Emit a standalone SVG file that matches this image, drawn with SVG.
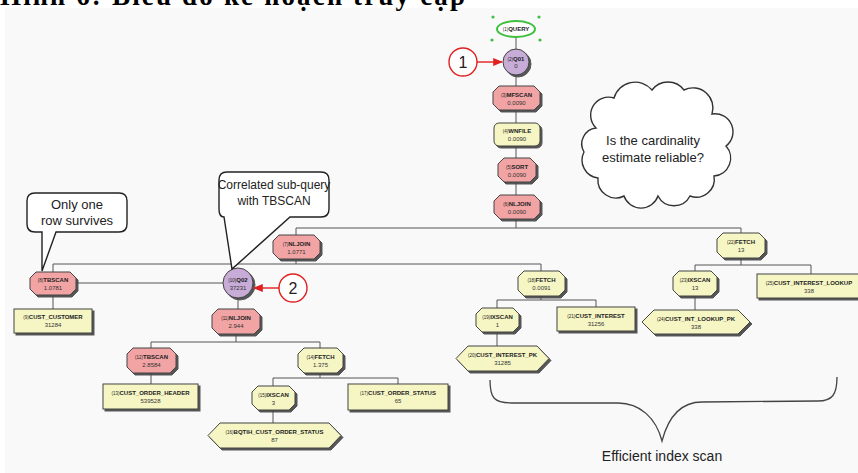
<svg xmlns="http://www.w3.org/2000/svg" width="858" height="473" viewBox="0 0 858 473">
<defs>
<filter id="sh" x="-20%" y="-20%" width="140%" height="150%">
<feOffset in="SourceAlpha" dx="2" dy="2" result="o"/>
<feFlood flood-color="#444" flood-opacity="0.9"/>
<feComposite in2="o" operator="in" result="s"/>
<feMerge><feMergeNode in="s"/><feMergeNode in="SourceGraphic"/></feMerge>
</filter>
<marker id="ar" viewBox="0 0 10 10" refX="9" refY="5" markerWidth="7" markerHeight="7" orient="auto-start-reverse">
<path d="M0,1 L10,5 L0,9 Z" fill="#e02020"/>
</marker>
</defs>
<style>
.pk{fill:#f2a4a4;stroke:#444;stroke-width:1;filter:url(#sh)}
.yl{fill:#f6f6c4;stroke:#444;stroke-width:1;filter:url(#sh)}
.pu{fill:#c8acd8;stroke:#444;stroke-width:1;filter:url(#sh)}
.lb{font-family:"Liberation Sans",Arial,sans-serif;font-size:6px;font-weight:bold;fill:#222;text-anchor:middle}
.vl{font-family:"Liberation Sans",Arial,sans-serif;font-size:6px;fill:#333;text-anchor:middle}
.sp{font-size:4.5px;font-weight:normal}
.cn{fill:none;stroke:#555;stroke-width:1}
.co{fill:#fff;stroke:#222;stroke-width:1.4}
.ct{font-family:"Liberation Sans",Arial,sans-serif;font-size:13px;fill:#222;text-anchor:middle}
.rc{fill:#fff;stroke:#e02020;stroke-width:1.4}
.ra{stroke:#e02020;stroke-width:1.4;fill:none;marker-end:url(#ar)}
.hd{fill:#40c040}
</style>
<rect x="0" y="0" width="858" height="473" fill="#ffffff"/>
<rect x="5" y="8" width="853" height="465" fill="#f9f9f9"/>
<text x="0" y="5" font-family="'Liberation Serif','Times New Roman',serif" font-size="27" font-weight="bold" fill="#000" textLength="465">Hình 6: Biểu đồ kế hoạch truy cập</text>

<g id="connectors">
<path class="cn" d="M516,37 V228"/>
<path class="cn" d="M296,235 V228 H741 V233"/>
<path class="cn" d="M296,259 V264 M53,272 V264 H541 V271"/>
<path class="cn" d="M53,295 V309"/>
<path class="cn" d="M76,283 H223"/>
<path class="cn" d="M238,298 V309"/>
<path class="cn" d="M236,334 V342 M151,348 V342 H320 V348"/>
<path class="cn" d="M151,373 V384"/>
<path class="cn" d="M320,373 V378 M273,386 V378 H398 V384"/>
<path class="cn" d="M273,410 V423"/>
<path class="cn" d="M541,296 V300 M497,308 V300 H596 V307"/>
<path class="cn" d="M497,332 V346"/>
<path class="cn" d="M741,258 V265 M695,271 V265 H811 V274"/>
<path class="cn" d="M695,296 V310"/>
</g>

<g id="n1">
<circle class="hd" cx="493" cy="17" r="1.6"/><circle class="hd" cx="539" cy="17" r="1.6"/>
<circle class="hd" cx="492" cy="40" r="1.6"/><circle class="hd" cx="540" cy="40" r="1.6"/>
<ellipse cx="516" cy="29" rx="19" ry="8" fill="#fff" stroke="#40c040" stroke-width="2"/>
<text class="lb" x="516" y="31"><tspan class="sp">(1)</tspan>QUERY</text>
</g>
<g id="n2">
<circle class="pu" cx="516" cy="62" r="13"/>
<text class="lb" x="516" y="61"><tspan class="sp">(2)</tspan>Q01</text>
<text class="vl" x="516" y="68">0</text>
</g>
<g id="n3">
<polygon class="pk" points="499,86 534,86 540,92 540,104 534,110 499,110 493,104 493,92"/>
<text class="lb" x="516.5" y="97"><tspan class="sp">(3)</tspan>MFSCAN</text>
<text class="vl" x="516.5" y="105">0.0090</text>
</g>
<g id="n4">
<rect class="yl" x="494" y="123" width="46" height="23" rx="5"/>
<text class="lb" x="517" y="133"><tspan class="sp">(4)</tspan>WNFILE</text>
<text class="vl" x="517" y="141">0.0090</text>
</g>
<g id="n5">
<polygon class="pk" points="504,158 530,158 536,164 536,176 530,182 504,182 498,176 498,164"/>
<text class="lb" x="517" y="169"><tspan class="sp">(5)</tspan>SORT</text>
<text class="vl" x="517" y="177">0.0090</text>
</g>
<g id="n6">
<polygon class="pk" points="500,195 534,195 540,201 540,213 534,219 500,219 494,213 494,201"/>
<text class="lb" x="517" y="206"><tspan class="sp">(6)</tspan>NLJOIN</text>
<text class="vl" x="517" y="214">0.0090</text>
</g>
<g id="n7">
<polygon class="pk" points="279,235 314,235 320,241 320,253 314,259 279,259 273,253 273,241"/>
<text class="lb" x="296.5" y="246"><tspan class="sp">(7)</tspan>NLJOIN</text>
<text class="vl" x="296.5" y="254">1.0771</text>
</g>
<g id="n8">
<polygon class="pk" points="36,272 70,272 76,278 76,289 70,295 36,295 30,289 30,278"/>
<text class="lb" x="53" y="282"><tspan class="sp">(8)</tspan>TBSCAN</text>
<text class="vl" x="53" y="290">1.0781</text>
</g>
<g id="n9">
<rect class="yl" x="14" y="309" width="78" height="24"/>
<text class="lb" x="53" y="319"><tspan class="sp">(9)</tspan>CUST_CUSTOMER</text>
<text class="vl" x="53" y="327">31284</text>
</g>
<g id="n10">
<circle class="pu" cx="238" cy="283" r="15"/>
<text class="lb" x="238" y="282"><tspan class="sp">(10)</tspan>Q02</text>
<text class="vl" x="238" y="290">37231</text>
</g>
<g id="n11">
<polygon class="pk" points="218,309 254,309 260,315 260,328 254,334 218,334 212,328 212,315"/>
<text class="lb" x="236" y="320"><tspan class="sp">(11)</tspan>NLJOIN</text>
<text class="vl" x="236" y="328">2.944</text>
</g>
<g id="n12">
<polygon class="pk" points="133,348 170,348 176,354 176,367 170,373 133,373 127,367 127,354"/>
<text class="lb" x="151.5" y="359"><tspan class="sp">(12)</tspan>TBSCAN</text>
<text class="vl" x="151.5" y="367">2.8584</text>
</g>
<g id="n13">
<rect class="yl" x="103" y="384" width="95" height="25"/>
<text class="lb" x="150.5" y="395"><tspan class="sp">(13)</tspan>CUST_ORDER_HEADER</text>
<text class="vl" x="150.5" y="403">539528</text>
</g>
<g id="n14">
<polygon class="yl" points="304,348 337,348 343,354 343,367 337,373 304,373 298,367 298,354"/>
<text class="lb" x="320.5" y="359"><tspan class="sp">(14)</tspan>FETCH</text>
<text class="vl" x="320.5" y="367">1.375</text>
</g>
<g id="n15">
<polygon class="yl" points="258,386 289,386 295,392 295,404 289,410 258,410 252,404 252,392"/>
<text class="lb" x="273.5" y="397"><tspan class="sp">(15)</tspan>IXSCAN</text>
<text class="vl" x="273.5" y="405">3</text>
</g>
<g id="n16">
<polygon class="yl" points="220,423 329,423 341,435.5 329,448 220,448 208,435.5"/>
<text class="lb" x="274.5" y="434"><tspan class="sp">(16)</tspan>BQTIH_CUST_ORDER_STATUS</text>
<text class="vl" x="274.5" y="442">87</text>
</g>
<g id="n17">
<rect class="yl" x="348" y="384" width="100" height="26"/>
<text class="lb" x="398" y="395"><tspan class="sp">(17)</tspan>CUST_ORDER_STATUS</text>
<text class="vl" x="398" y="403">65</text>
</g>
<g id="n18">
<polygon class="yl" points="524,271 559,271 565,277 565,290 559,296 524,296 518,290 518,277"/>
<text class="lb" x="541.5" y="282"><tspan class="sp">(18)</tspan>FETCH</text>
<text class="vl" x="541.5" y="290">0.0091</text>
</g>
<g id="n19">
<polygon class="yl" points="482,308 513,308 519,314 519,326 513,332 482,332 476,326 476,314"/>
<text class="lb" x="497.5" y="319"><tspan class="sp">(19)</tspan>IXSCAN</text>
<text class="vl" x="497.5" y="327">1</text>
</g>
<g id="n20">
<rect class="yl" x="557" y="307" width="78" height="24"/>
<text class="lb" x="596" y="318"><tspan class="sp">(21)</tspan>CUST_INTEREST</text>
<text class="vl" x="596" y="326">31256</text>
</g>
<g id="n21">
<polygon class="yl" points="468,346 537,346 549,358.5 537,371 468,371 456,358.5"/>
<text class="lb" x="502.5" y="357"><tspan class="sp">(20)</tspan>CUST_INTEREST_PK</text>
<text class="vl" x="502.5" y="365">31285</text>
</g>
<g id="n22">
<polygon class="yl" points="723,233 759,233 765,239 765,252 759,258 723,258 717,252 717,239"/>
<text class="lb" x="741" y="244"><tspan class="sp">(22)</tspan>FETCH</text>
<text class="vl" x="741" y="252">13</text>
</g>
<g id="n23">
<polygon class="yl" points="679,271 711,271 717,277 717,290 711,296 679,296 673,290 673,277"/>
<text class="lb" x="695" y="282"><tspan class="sp">(23)</tspan>IXSCAN</text>
<text class="vl" x="695" y="290">13</text>
</g>
<g id="n24">
<polygon class="yl" points="654,310 738,310 750,322 738,334 654,334 642,322"/>
<text class="lb" x="696" y="321"><tspan class="sp">(24)</tspan>CUST_INT_LOOKUP_PK</text>
<text class="vl" x="696" y="329">338</text>
</g>
<g id="n25">
<rect class="yl" x="757" y="274" width="106" height="24"/>
<text class="lb" x="809" y="285"><tspan class="sp">(25)</tspan>CUST_INTEREST_LOOKUP</text>
<text class="vl" x="809" y="293">338</text>
</g>

<g id="callout1">
<path class="co" d="M35,193 H119 Q127,193 127,201 V224 Q127,232 119,232 H56 L42,271 V232 H35 Q27,232 27,224 V201 Q27,193 35,193 Z"/>
<text class="ct" x="77" y="209">Only one</text>
<text class="ct" x="77" y="225">row survives</text>
</g>
<g id="callout2">
<path class="co" d="M227,172 H321 Q329,172 329,180 V209 Q329,217 321,217 H290 L232,269 L224,217 Q219,217 219,209 V180 Q219,172 227,172 Z"/>
<text class="ct" x="274" y="189" font-size="12" style="font-size:12px">Correlated sub-query</text>
<text class="ct" x="274" y="205" style="font-size:12px">with TBSCAN</text>
</g>
<g id="mark1">
<circle class="rc" cx="463" cy="62" r="14"/>
<text x="463" y="68" font-family="'Liberation Sans',Arial,sans-serif" font-size="16" fill="#222" text-anchor="middle">1</text>
<path class="ra" d="M477,62 H502"/>
</g>
<g id="mark2">
<circle class="rc" cx="293" cy="288" r="14"/>
<text x="293" y="294" font-family="'Liberation Sans',Arial,sans-serif" font-size="16" fill="#222" text-anchor="middle">2</text>
<path class="ra" d="M279,288 H254"/>
</g>
<g id="cloud">
<path fill="#fff" stroke="#333" stroke-width="1.4" d="M596,128 A18,18 0 0 1 614,98 A22,22 0 0 1 652,90 A20,20 0 0 1 684,90 A20,20 0 0 1 712,114 A18,18 0 0 1 726,146 A18,18 0 0 1 714,176 A18,18 0 0 1 690,196 A18,18 0 0 1 658,196 A18,18 0 0 1 624,196 A18,18 0 0 1 598,178 A18,18 0 0 1 584,152 A16,16 0 0 1 596,128 Z"/>
<text class="ct" x="653" y="145">Is the cardinality</text>
<text class="ct" x="653" y="162">estimate reliable?</text>
</g>
<g id="brace">
<path fill="none" stroke="#444" stroke-width="1.3" d="M490,380 C490,398 494,403 512,403 L618,403 C640,403 656,418 662,441 C668,418 680,402 702,402 L818,401 C832,401 837,395 837,377"/>
<text x="662" y="461" font-family="'Liberation Sans',Arial,sans-serif" font-size="14" fill="#222" text-anchor="middle">Efficient index scan</text>
</g>
</svg>
